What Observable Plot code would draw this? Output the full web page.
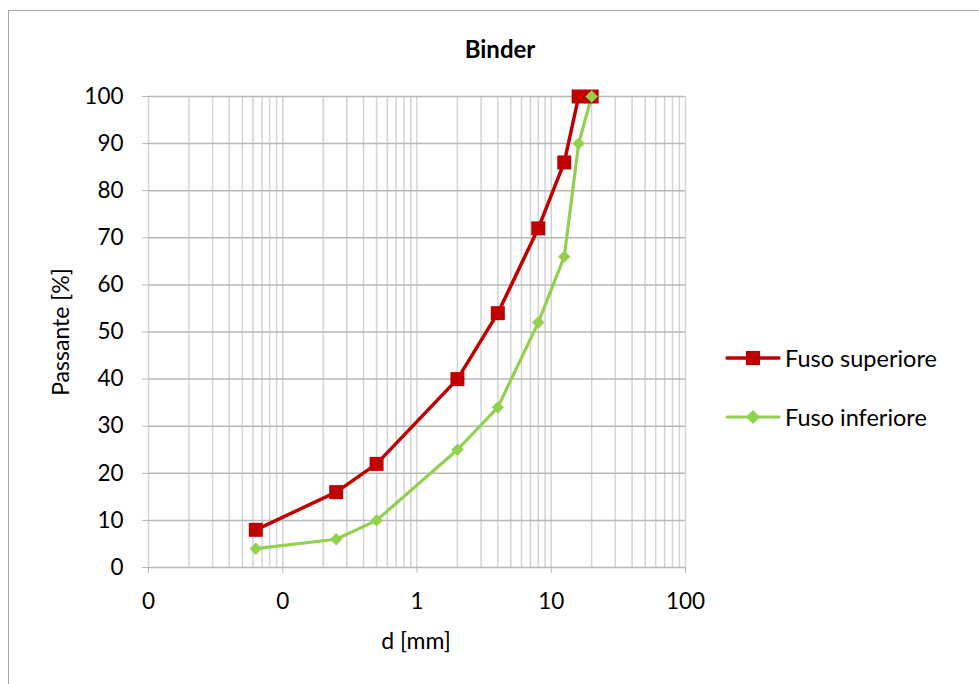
<!DOCTYPE html>
<html><head><meta charset="utf-8">
<script src="https://cdn.jsdelivr.net/npm/d3@7"></script>
<script src="https://cdn.jsdelivr.net/npm/@observablehq/plot@0.6"></script>
<style>
body{margin:0;background:#fff;}
#wrap{position:relative;width:979px;height:684px;overflow:hidden;font-family:Lato,"Open Sans",sans-serif;color:#000;}
#frame{position:absolute;left:8px;top:10px;width:1000px;height:700px;border-left:1.5px solid #a6a6a6;border-top:1.5px solid #a6a6a6;}
#chart{position:absolute;left:0;top:0;}
#title{position:absolute;top:48px;left:400px;width:200px;text-align:center;font-weight:bold;font-size:24px;transform:translateY(-50%);}
#ytitle{position:absolute;left:60px;top:332px;transform:translate(-50%,-50%) rotate(-90deg);font-size:23px;white-space:nowrap;}
#xtitle{position:absolute;left:416px;top:640px;transform:translate(-50%,-50%);font-size:23px;white-space:nowrap;}
#legend{position:absolute;left:725px;top:343px;font-size:23.5px;}
.item{display:flex;align-items:center;height:29px;margin-bottom:30px;}
.item svg{margin-right:4px;}
</style></head>
<body>
<div id="wrap">
  <div id="frame"></div>
  <div id="chart"></div>
  <div id="title">Binder</div>
  <div id="ytitle">Passante [%]</div>
  <div id="xtitle">d [mm]</div>
  <div id="legend"></div>
</div>
<script>
const sizes = [0.063, 0.25, 0.5, 2, 4, 8, 12.5, 16, 20];
const upper = [8, 16, 22, 40, 54, 72, 86, 100, 100];
const lower = [4, 6, 10, 25, 34, 52, 66, 90, 100];
const seriesNames = ["Fuso superiore", "Fuso inferiore"];
const seriesColors = ["#c00000", "#92d050"];
const xTicks = [0.01, 0.1, 1, 10, 100];
const xTickLabels = ["0", "0", "1", "10", "100"];
const yTicks = [0, 10, 20, 30, 40, 50, 60, 70, 80, 90, 100];

const rows = [];
sizes.forEach((d, i) => {
  rows.push({d, p: upper[i], s: seriesNames[0]});
  rows.push({d, p: lower[i], s: seriesNames[1]});
});
const gridX = [];
for (const dec of [0.01, 0.1, 1, 10]) for (let m = 1; m <= 9; m++) gridX.push(+(m * dec).toPrecision(3));
gridX.push(100);

const up = rows.filter(r => r.s === seriesNames[0]);
const lo = rows.filter(r => r.s === seriesNames[1]);

const plot = Plot.plot({
  width: 979, height: 684,
  marginLeft: 148, marginRight: 294, marginTop: 96, marginBottom: 117,
  style: {fontFamily: "Lato, 'Open Sans', sans-serif", fontSize: "22.5px", background: "transparent", color: "#000"},
  x: {type: "log", domain: [0.01, 100]},
  y: {domain: [0, 100]},
  marks: [
    Plot.ruleX(gridX, {stroke: "#d4d4d4", strokeWidth: 1.5}),
    Plot.ruleY(yTicks, {stroke: "#b8b8b8", strokeWidth: 1.5}),
    Plot.axisY({ticks: yTicks, tickSize: 6, tickPadding: 19, stroke: "#b8b8b8", strokeOpacity: 1, label: null, tickFormat: d => String(d)}),
    Plot.axisX({ticks: xTicks, tickSize: 6, tickPadding: 20, stroke: "#b8b8b8", strokeOpacity: 1, label: null, tickFormat: d => xTickLabels[xTicks.indexOf(d)]}),
    Plot.line(lo, {x: "d", y: "p", stroke: seriesColors[1], strokeWidth: 3.2}),
    Plot.line(up, {x: "d", y: "p", stroke: seriesColors[0], strokeWidth: 3.5}),
    Plot.dot(up, {x: "d", y: "p", symbol: "square", r: 7.9, fill: seriesColors[0], stroke: "none"}),
    Plot.dot(lo, {x: "d", y: "p", symbol: "diamond2", r: 5.6, fill: seriesColors[1], stroke: "none"})
  ]
});
document.getElementById("chart").appendChild(plot);

const legend = document.getElementById("legend");
seriesNames.forEach((name, i) => {
  const item = document.createElement("div");
  item.className = "item";
  const ns = "http://www.w3.org/2000/svg";
  const svg = document.createElementNS(ns, "svg");
  svg.setAttribute("width", 56); svg.setAttribute("height", 20);
  const line = document.createElementNS(ns, "line");
  line.setAttribute("x1", 2); line.setAttribute("x2", 54); line.setAttribute("y1", 10); line.setAttribute("y2", 10);
  line.setAttribute("stroke", seriesColors[i]); line.setAttribute("stroke-width", i === 0 ? 3.5 : 3.2);
  line.setAttribute("stroke-linecap", "round");
  svg.appendChild(line);
  if (i === 0) {
    const r = document.createElementNS(ns, "rect");
    r.setAttribute("x", 21); r.setAttribute("y", 3); r.setAttribute("width", 14); r.setAttribute("height", 14);
    r.setAttribute("fill", seriesColors[0]); svg.appendChild(r);
  } else {
    const p = document.createElementNS(ns, "path");
    p.setAttribute("d", "M28,3L35,10L28,17L21,10Z"); p.setAttribute("fill", seriesColors[1]); svg.appendChild(p);
  }
  item.appendChild(svg);
  const t = document.createElement("span"); t.textContent = name; item.appendChild(t);
  legend.appendChild(item);
});
</script>
</body></html>
